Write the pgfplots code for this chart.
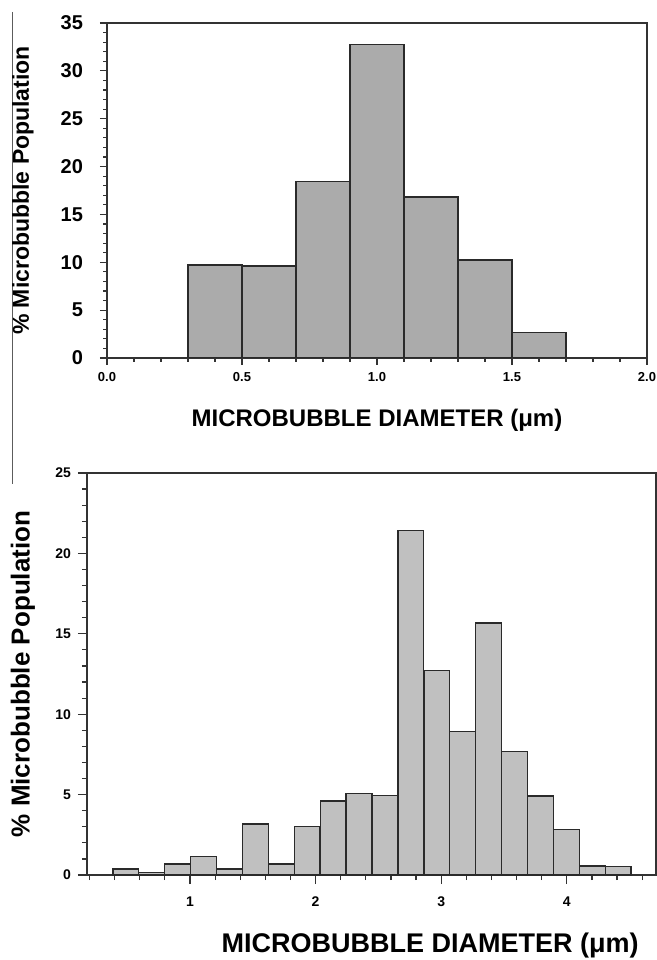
\documentclass[border=0pt]{standalone}
\usepackage{fontspec}
\setmainfont{Liberation Sans}
\usepackage{pgfplots}
\pgfplotsset{compat=1.18}
\definecolor{frame}{HTML}{333333}
\definecolor{edge}{HTML}{2A2A2A}
\definecolor{bartop}{HTML}{ABABAB}
\definecolor{barbot}{HTML}{C0C0C0}

\pgfplotsset{histo/.style={
  scale only axis, axis on top=false,
  axis line style={draw=frame,line width=1pt},
  tick style={draw=frame,line width=0.6pt},
  tick align=outside, xtick pos=bottom, ytick pos=left,
  /pgf/number format/assume math mode=true,
  ybar, bar shift=0pt, ymin=0,
}}

\begin{document}
\begin{tikzpicture}
\path[use as bounding box] (0,0) rectangle (328.5pt,480pt);
% stray rule at the left edge of the scanned page
\draw[frame!80,line width=0.5pt] (6pt,474pt) -- (6pt,238pt);

% upper histogram
\begin{axis}[histo,
  at={(53.5pt,301pt)}, anchor=south west,
  width=270pt, height=167.5pt,
  xmin=0, xmax=2, ymax=35,
  xtick={0,0.5,...,2}, minor x tick num=4,
  ytick={0,5,...,35}, minor y tick num=4,
  major tick length=3.5pt, minor tick length=1.8pt,
  xticklabel style={font=\bfseries\fontsize{6.5}{7}\selectfont,
    /pgf/number format/.cd,fixed,fixed zerofill,precision=1},
  yticklabel style={font=\bfseries\fontsize{10}{12}\selectfont, xshift=-5pt},
  xlabel={MICROBUBBLE DIAMETER (μm)},
  ylabel={\% Microbubble Population},
  xlabel style={font=\bfseries\fontsize{12}{14}\selectfont,
    at={(axis description cs:0.5,0)}, anchor=base, yshift=-34.5pt},
  ylabel style={font=\bfseries\fontsize{11.5}{13}\selectfont,
    at={(axis description cs:-0.1556,0.5)}, anchor=center},
]
\addplot[fill=bartop, draw=edge, line width=0.7pt, bar width=0.2]
  coordinates {(0.4,9.73) (0.6,9.63) (0.8,18.42) (1.0,32.74)
               (1.2,16.82) (1.4,10.22) (1.6,2.68)};
\end{axis}

% lower histogram
\begin{axis}[histo,
  at={(43.5pt,42.5pt)}, anchor=south west,
  width=284.5pt, height=201pt,
  xmin=0.18, xmax=4.71, ymax=25,
  xtick={1,2,3,4}, minor xtick={0.2,0.4,0.6,0.8,1.2,1.4,1.6,1.8,2.2,2.4,2.6,2.8,3.2,3.4,3.6,3.8,4.2,4.4,4.6},
  ytick={0,5,...,25}, minor y tick num=4,
  major tick length=4.5pt, minor tick length=2.5pt,
  xticklabel style={font=\bfseries\fontsize{7}{8}\selectfont, yshift=-3pt},
  yticklabel style={font=\bfseries\fontsize{7}{8}\selectfont},
  xlabel={MICROBUBBLE DIAMETER (μm)},
  ylabel={\% Microbubble Population},
  xlabel style={font=\bfseries\fontsize{13.5}{15}\selectfont,
    at={(axis description cs:0.603,0)}, anchor=base, yshift=-38.5pt},
  ylabel style={font=\bfseries\fontsize{13}{15}\selectfont,
    at={(axis description cs:-0.1125,0.5)}, anchor=center},
]
\addplot[fill=barbot, draw=edge, line width=0.7pt, bar width=0.2063]
  coordinates {(0.489,0.37) (0.695,0.17) (0.902,0.68) (1.108,1.14)
               (1.314,0.37) (1.521,3.17) (1.727,0.68) (1.933,3.01)
               (2.140,4.61) (2.346,5.06) (2.552,4.96) (2.758,21.43)
               (2.965,12.72) (3.171,8.94) (3.377,15.66) (3.584,7.68)
               (3.790,4.92) (3.996,2.82) (4.203,0.56) (4.409,0.52)};
\end{axis}
\end{tikzpicture}
\end{document}
